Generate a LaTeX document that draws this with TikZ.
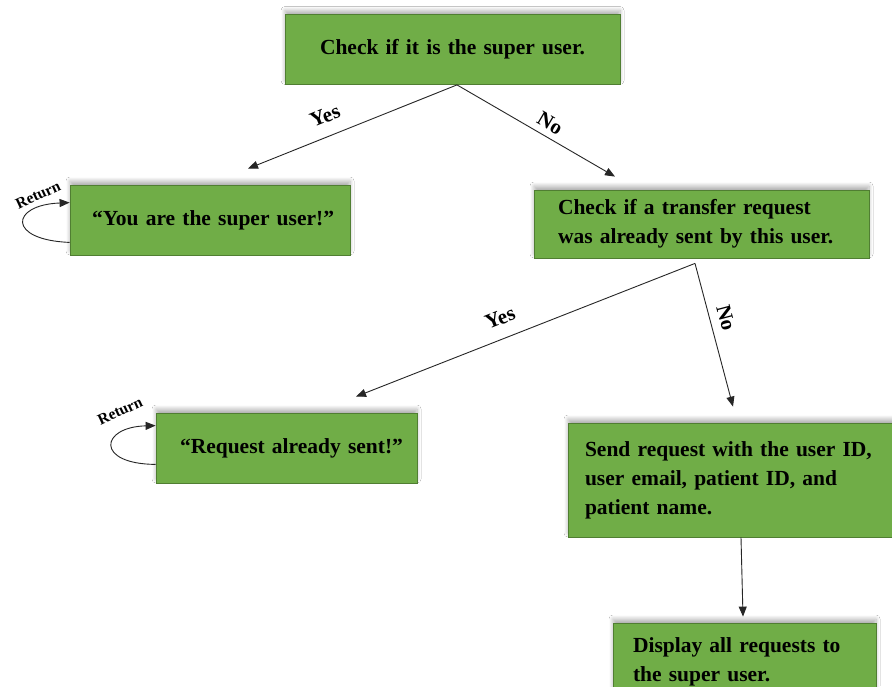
\documentclass[tikz,border=0pt]{standalone}
\usepackage{fontspec}
\setmainfont{Liberation Serif}
\usetikzlibrary{arrows.meta,calc,shadows.blur}
\definecolor{boxgreen}{HTML}{70AD47}
\definecolor{boxedge}{HTML}{507E32}
\begin{document}
\begin{tikzpicture}[x=1pt,y=-1pt,
  box/.style={draw=boxedge, line width=0.8pt, fill=boxgreen, rectangle,
    blur shadow={shadow xshift=0pt, shadow yshift=4pt, shadow opacity=30, shadow blur steps=8, shadow blur radius=4pt},
    font=\bfseries\fontsize{21.5}{29}\selectfont, align=left, inner ysep=0pt, text=black},
  conn/.style={draw=black!85, line width=0.9pt, -{Triangle[length=10pt,width=8pt]}},
  lbl/.style={font=\bfseries\fontsize{21}{24}\selectfont, inner sep=0pt},
  ret/.style={font=\bfseries\fontsize{15.5}{18}\selectfont, inner sep=0pt}]
\clip (0,0) rectangle (892,686);
\fill[white] (0,0) rectangle (892,686);

\node[box, align=center, minimum width=335pt, minimum height=70pt, inner xsep=10pt, text width=315pt] (b1) at (452.5,49.5) {Check if it is the super user.};
\node[box, minimum width=280pt, minimum height=70pt, inner xsep=22pt, text width=236pt] (b2) at (210,220) {\mbox{“You are the super user!”}};
\node[box, minimum width=335pt, minimum height=68pt, inner xsep=24pt, text width=287pt] (b3) at (701.5,224) {Check if a transfer request\\\mbox{was already sent by this user.}};
\node[box, minimum width=261pt, minimum height=70pt, inner xsep=24pt, text width=213pt] (b4) at (286.5,448) {\mbox{“Request already sent!”}};
\node[box, minimum width=327pt, minimum height=114pt, inner xsep=17pt, text width=293pt] (b5) at (731.5,480) {\mbox{Send request with the user ID,}\\user email, patient ID, and\\patient name.};
\node[box, minimum width=263pt, minimum height=77pt, inner xsep=20pt, text width=223pt] (b6) at (744.5,661.5) {Display all requests to\\the super user.};

\coordinate (s1) at ($(b1.south)+(4.5,0)$);
\coordinate (e1) at ($(b2.north)+(38,-16)$);
\coordinate (e2) at ($(b3.north)+(-86.5,-13)$);
\coordinate (s2) at ($(b3.south)+(-6.5,5)$);
\coordinate (e3) at ($(b4.north)+(69.5,-16)$);
\coordinate (e4) at ($(b5.north)+(1.5,-16)$);
\coordinate (s5) at ($(b5.south)+(9.5,0)$);
\coordinate (e5) at ($(b6.north)+(-1.5,-6)$);

\draw[conn] (s1) -- (e1);
\draw[conn] (s1) -- (e2);
\draw[conn] (s2) -- (e3);
\draw[conn] (s2) -- (e4);
\draw[conn] (s5) -- (e5);

\node[lbl, rotate=22] (y1) at (325,116) {Yes};
\node[lbl, rotate=-30.5] (n1) at (550,123) {No};
\node[lbl, rotate=21.6] (y2) at (500,318) {Yes};
\node[lbl, rotate=-75.2] (n2) at (726,318) {No};

\coordinate (r1a) at ($(b2.south west)+(0,-13)$);
\coordinate (r1b) at ($(b2.north west)+(0,18)$);
\draw[conn] (r1a) .. controls (7,240) and (10,205) .. (r1b);
\node[ret, rotate=25] (t1) at (38,195) {Return};

\coordinate (r2a) at ($(b4.south west)+(0,-19)$);
\coordinate (r2b) at ($(b4.north west)+(0,13)$);
\draw[conn] (r2a) .. controls (95,464) and (100,427) .. (r2b);
\node[ret, rotate=25] (t2) at (120,411) {Return};
\end{tikzpicture}
\end{document}
